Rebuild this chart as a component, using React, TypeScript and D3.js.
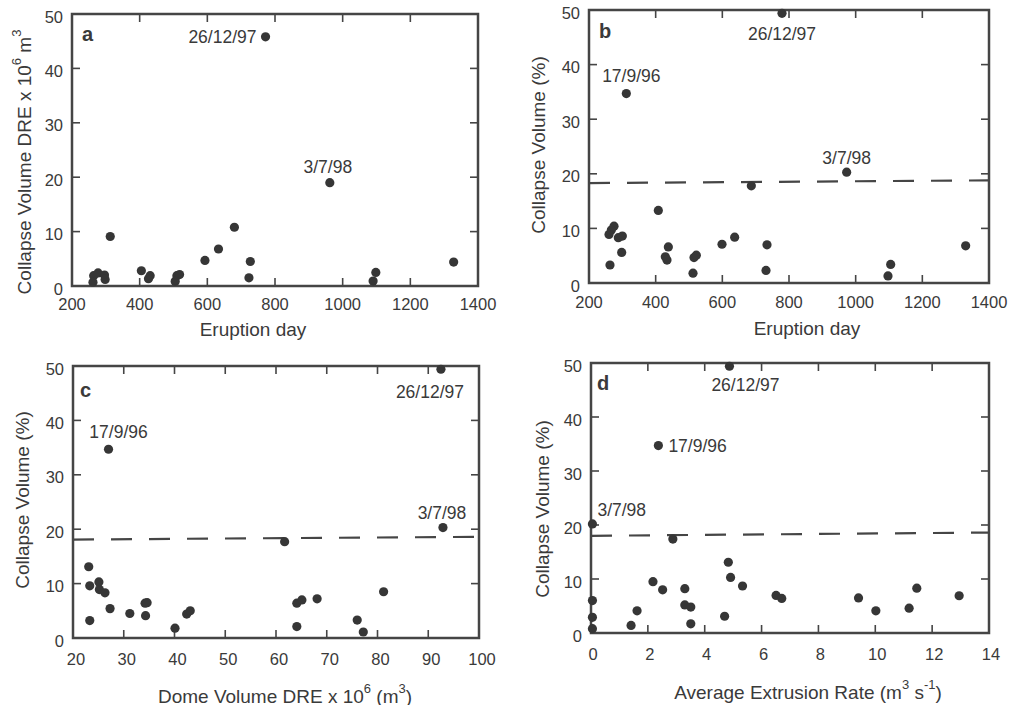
import React from 'react';
import * as d3 from 'd3';

// ---------- data ----------
const dayTicks = [200, 400, 600, 800, 1000, 1200, 1400];
const pctTicks = [0, 10, 20, 30, 40, 50];
const domeTicks = [20, 30, 40, 50, 60, 70, 80, 90, 100];
const rateTicks = [0, 2, 4, 6, 8, 10, 12, 14];

// panel a: eruption day vs collapse volume DRE (10^6 m3)
const dayA = [772, 962, 313, 264, 277, 296, 298, 262, 405, 431, 426, 510, 518, 505, 593, 633, 680, 727, 723, 1098, 1090, 1328];
const dreA = [45.8, 19.0, 9.1, 1.9, 2.4, 2.0, 1.2, 0.7, 2.8, 1.9, 1.35, 1.9, 2.1, 0.85, 4.7, 6.8, 10.8, 4.5, 1.5, 2.5, 0.9, 4.4];
const labelsA = ['26/12/97', '3/7/98'];

// panel b: eruption day vs collapse volume (%)
const dayB = [779, 312, 973, 687, 408, 275, 267, 260, 288, 300, 298, 263, 438, 429, 434, 512, 515, 522, 599, 637, 734, 731, 1105, 1097, 1330];
const pctB = [49.4, 34.7, 20.3, 17.8, 13.3, 10.4, 9.7, 8.9, 8.3, 8.6, 5.6, 3.3, 6.6, 4.8, 4.2, 1.8, 4.65, 5.1, 7.1, 8.4, 7.0, 2.3, 3.4, 1.3, 6.8];
const labelsB = ['26/12/97', '17/9/96', '3/7/98'];
const thresholdB = [18.3, 18.8];

// panel c: dome volume DRE vs collapse volume (%)
const domeC = [92.5, 27.0, 92.9, 61.7, 23.1, 23.3, 23.3, 25.1, 25.2, 26.3, 27.3, 31.2, 34.2, 34.6, 34.3, 40.1, 42.4, 43.1, 64.1, 65.1, 68.1, 64.1, 76.0, 77.2, 81.2];
const pctC = [49.4, 34.7, 20.3, 17.7, 13.1, 9.6, 3.2, 10.3, 8.9, 8.3, 5.4, 4.5, 6.4, 6.5, 4.1, 1.8, 4.4, 5.0, 6.4, 7.0, 7.2, 2.1, 3.3, 1.1, 8.5];
const labelsC = ['26/12/97', '17/9/96', '3/7/98'];
const thresholdC = [18.1, 18.6];

// panel d: average extrusion rate vs collapse volume (%)
const rateD = [4.87, 2.37, 0.05, 2.88, 0.05, 0.05, 0.05, 1.41, 1.62, 2.18, 2.52, 3.30, 3.30, 3.51, 3.51, 4.70, 4.83, 4.91, 5.33, 6.51, 6.71, 9.41, 10.02, 11.19, 11.46, 12.95];
const pctD = [49.4, 34.7, 20.2, 17.4, 6.0, 2.9, 0.8, 1.4, 4.1, 9.5, 8.0, 8.2, 5.2, 4.8, 1.7, 3.1, 13.1, 10.3, 8.7, 6.95, 6.4, 6.5, 4.1, 4.6, 8.3, 6.9];
const labelsD = ['26/12/97', '17/9/96', '3/7/98'];
const thresholdD = [18.0, 18.6];

// ---------- styles ----------
const FONT = '"Liberation Sans", Arial, Helvetica, sans-serif';
const TEXT = '#3a3a3a';
const FRAME = '#454545';
const DOT = '#363636';

type LabelPos = { dx: number; dy: number; anchor: 'start' | 'middle' | 'end' };

interface PanelProps {
  box: { l: number; t: number; r: number; b: number };
  xDomain: [number, number];
  xTicks: number[];
  xs: number[];
  ys: number[];
  labels: string[];
  labelPos: LabelPos[];
  threshold?: number[];
  letter: string;
  letterPos: [number, number];
  xTitle: React.ReactNode;
  xTitlePos: [number, number];
  yTitle: React.ReactNode;
  yTitlePos: [number, number];
  xLabelShift: number;
  xLabelDy: number;
}

const Panel: React.FC<PanelProps> = (p) => {
  const { box } = p;
  const x = d3.scaleLinear().domain(p.xDomain).range([box.l, box.r]);
  const y = d3.scaleLinear().domain([0, 50]).range([box.b, box.t]);
  const tl = 8;
  return (
    <g>
      {p.threshold && (
        <line
          x1={box.l}
          x2={box.r}
          y1={y(p.threshold[0])}
          y2={y(p.threshold[1])}
          stroke={FRAME}
          strokeWidth={2.2}
          strokeDasharray="21 17"
        />
      )}
      {p.xTicks.slice(1, -1).map((t) => (
        <g key={'xt' + t}>
          <line x1={x(t)} x2={x(t)} y1={box.b} y2={box.b - tl} stroke={FRAME} strokeWidth={1.6} />
          <line x1={x(t)} x2={x(t)} y1={box.t} y2={box.t + tl} stroke={FRAME} strokeWidth={1.6} />
        </g>
      ))}
      {pctTicks.slice(1, -1).map((t) => (
        <g key={'yt' + t}>
          <line x1={box.l} x2={box.l + tl} y1={y(t)} y2={y(t)} stroke={FRAME} strokeWidth={1.6} />
          <line x1={box.r} x2={box.r - tl} y1={y(t)} y2={y(t)} stroke={FRAME} strokeWidth={1.6} />
        </g>
      ))}
      <rect x={box.l} y={box.t} width={box.r - box.l} height={box.b - box.t} fill="none" stroke={FRAME} strokeWidth={2.5} />
      {p.xTicks.map((t) => (
        <text
          key={'xl' + t}
          x={x(t) + p.xLabelShift}
          y={box.b + p.xLabelDy}
          textAnchor="middle"
          dominantBaseline="central"
          fontSize={16.5}
          fill={TEXT}
          fontFamily={FONT}
        >
          {t}
        </text>
      ))}
      {pctTicks.map((t) => (
        <text
          key={'yl' + t}
          x={box.l - 9}
          y={y(t) + 2.5}
          textAnchor="end"
          dominantBaseline="central"
          fontSize={16.5}
          fill={TEXT}
          fontFamily={FONT}
        >
          {t}
        </text>
      ))}
      {p.xs.map((v, i) => (
        <circle key={'pt' + i} cx={x(v)} cy={y(p.ys[i])} r={4.6} fill={DOT} />
      ))}
      {p.labels.map((s, i) => (
        <text
          key={'an' + i}
          x={x(p.xs[i]) + p.labelPos[i].dx}
          y={y(p.ys[i]) + p.labelPos[i].dy}
          textAnchor={p.labelPos[i].anchor}
          dominantBaseline="central"
          fontSize={17.5}
          fill={TEXT}
          fontFamily={FONT}
        >
          {s}
        </text>
      ))}
      <text x={p.letterPos[0]} y={p.letterPos[1]} fontSize={20} fontWeight="bold" fill={TEXT} fontFamily={FONT} dominantBaseline="central">
        {p.letter}
      </text>
      <text x={p.xTitlePos[0]} y={p.xTitlePos[1]} textAnchor="middle" dominantBaseline="central" fontSize={19} fill={TEXT} fontFamily={FONT}>
        {p.xTitle}
      </text>
      <text
        transform={`translate(${p.yTitlePos[0]},${p.yTitlePos[1]}) rotate(-90)`}
        textAnchor="middle"
        dominantBaseline="central"
        fontSize={19}
        fill={TEXT}
        fontFamily={FONT}
      >
        {p.yTitle}
      </text>
    </g>
  );
};

const Sup: React.FC<{ children: React.ReactNode }> = ({ children }) => (
  <tspan baselineShift="super" fontSize={13}>
    {children}
  </tspan>
);

export default function App() {
  return (
    <svg width={1011} height={705} style={{ position: 'absolute', left: 0, top: 0, background: '#fff' }}>
      <Panel
        box={{ l: 72, t: 14, r: 478, b: 286 }}
        xDomain={[200, 1400]}
        xTicks={dayTicks}
        xs={dayA}
        ys={dreA}
        labels={labelsA}
        labelPos={[
          { dx: -9, dy: 0, anchor: 'end' },
          { dx: -2, dy: -16, anchor: 'middle' },
        ]}
        letter="a"
        letterPos={[82, 34]}
        xTitle="Eruption day"
        xTitlePos={[253, 329]}
        yTitle={
          <>
            Collapse Volume DRE x 10<Sup>6</Sup> m<Sup>3</Sup>
          </>
        }
        yTitlePos={[24, 162]}
        xLabelShift={0}
        xLabelDy={18}
      />
      <Panel
        box={{ l: 589, t: 10, r: 989, b: 283 }}
        xDomain={[200, 1400]}
        xTicks={dayTicks}
        xs={dayB}
        ys={pctB}
        labels={labelsB}
        labelPos={[
          { dx: 0, dy: 21, anchor: 'middle' },
          { dx: 5, dy: -18, anchor: 'middle' },
          { dx: 0, dy: -14, anchor: 'middle' },
        ]}
        threshold={thresholdB}
        letter="b"
        letterPos={[599, 31]}
        xTitle="Eruption day"
        xTitlePos={[807, 328]}
        yTitle="Collapse Volume (%)"
        yTitlePos={[538, 145]}
        xLabelShift={0}
        xLabelDy={19}
      />
      <Panel
        box={{ l: 73, t: 366, r: 479, b: 638 }}
        xDomain={[20, 100]}
        xTicks={domeTicks}
        xs={domeC}
        ys={pctC}
        labels={labelsC}
        labelPos={[
          { dx: -11, dy: 23, anchor: 'middle' },
          { dx: 10, dy: -17, anchor: 'middle' },
          { dx: -1, dy: -15, anchor: 'middle' },
        ]}
        threshold={thresholdC}
        letter="c"
        letterPos={[80, 390]}
        xTitle={
          <>
            Dome Volume DRE x 10<Sup>6</Sup> (m<Sup>3</Sup>)
          </>
        }
        xTitlePos={[285, 696]}
        yTitle="Collapse Volume (%)"
        yTitlePos={[22, 500]}
        xLabelShift={3}
        xLabelDy={21}
      />
      <Panel
        box={{ l: 591, t: 363, r: 989, b: 633 }}
        xDomain={[0, 14]}
        xTicks={rateTicks}
        xs={rateD}
        ys={pctD}
        labels={labelsD}
        labelPos={[
          { dx: 16, dy: 19, anchor: 'middle' },
          { dx: 10, dy: 0, anchor: 'start' },
          { dx: 5, dy: -14, anchor: 'start' },
        ]}
        threshold={thresholdD}
        letter="d"
        letterPos={[597, 383]}
        xTitle={
          <>
            Average Extrusion Rate (m<Sup>3</Sup> s<Sup>-1</Sup>)
          </>
        }
        xTitlePos={[808, 692]}
        yTitle="Collapse Volume (%)"
        yTitlePos={[542, 509]}
        xLabelShift={2}
        xLabelDy={21}
      />
    </svg>
  );
}
